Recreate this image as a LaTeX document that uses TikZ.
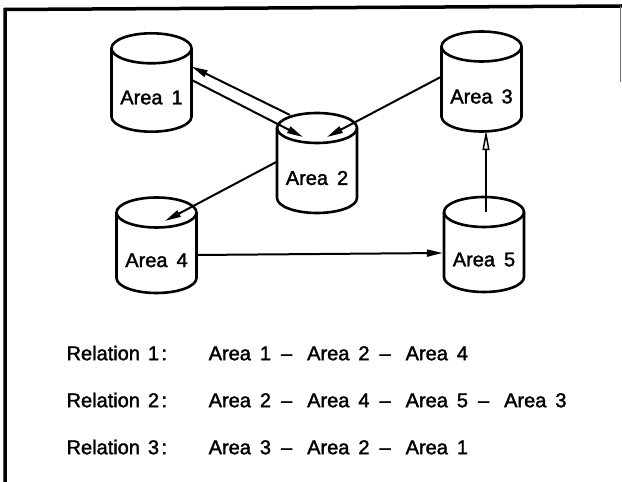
\documentclass[tikz,border=0pt]{standalone}
\usepackage{fontspec}
\setmainfont{Liberation Sans}[FakeBold=1.8]
\usetikzlibrary{arrows.meta,calc}

% database cylinder: name, centre x, top-ellipse y, bottom-ellipse y, label
\newcommand\areacyl[5]{%
  \draw[cyl] (#2,#3) ellipse[x radius=40,y radius=15];
  \draw[cyl] (#2-40,#3) -- (#2-40,#4)
     arc[start angle=180,end angle=360,x radius=40,y radius=15] -- (#2+40,#3);
  \node[box, minimum height={#3-#4+30}] (#1) at (#2,{(#3+#4)/2}) {};
  \node[lbl] (#1-lbl) at (#2,{(#3+#4)/2-15}) {#5};
}
\newcommand\ar[1]{Area\hspace{9pt}#1}
\newcommand\dsh{\hspace{10pt}–\hspace{15pt}}

\begin{document}
\begin{tikzpicture}[x=1pt,y=1pt,
  cyl/.style={line width=2.6pt, line join=round},
  conn/.style={line width=2pt, -{Triangle[length=16pt,width=7pt]}},
  openhead/.style={line width=2pt, -{Triangle[open,length=20pt,width=7pt,line width=1.5pt]}},
  box/.style={minimum width=80pt, inner sep=0pt},
  lbl/.style={font=\fontsize{20}{24}\selectfont, inner sep=0pt},
  rel/.style={font=\fontsize{20}{24}\selectfont, anchor=base west, inner sep=0pt}]
\useasboundingbox (0,0) rectangle (622,482);

% frame
\draw[line width=3.5pt] (5,0) -- (5,472.5) -- (622,476);
\draw[line width=1.5pt, black!55] (620.5,476) -- (620.5,400);

% storage areas
\areacyl{a1}{151.5}{433.7}{365.3}{\ar{1}}
\areacyl{a2}{317}{354}{284}{\ar{2}}
\areacyl{a3}{481.5}{435.5}{365.5}{\ar{3}}
\areacyl{a4}{156.5}{269.5}{204}{\ar{4}}
\areacyl{a5}{484}{270}{205}{\ar{5}}

% links between areas
\draw[conn] ($(a2.center)+(-27,48)$) -- ($(a1.east)+(0,15.8)$);
\draw[conn] ($(a1.east)+(0,2.5)$) -- ($(a2.center)+(-14,26)$);
\draw[conn] ($(a3.west)+(0,4.8)$) -- ($(a2.center)+(10,26)$);
\draw[conn] ($(a2.west)+(0,1.3)$) -- ($(a4.center)+(8.5,24.25)$);
\draw[conn] ($(a4.east)+(0,-9.75)$) -- ($(a5.west)+(-1,-8.5)$);
\draw[openhead] ($(a5.center)+(2,32.5)$) -- ($(a3.south)+(4.5,1.5)$);

% relations
\node[rel] (r1) at (66.4,121.8) {Relation\hspace{8pt}1\hspace{2.5pt}:};
\node[rel] (r1v) at (208.5,121.8) {\ar{1}\dsh\ar{2}\dsh\ar{4}};
\node[rel] (r2) at (66.4,74.8) {Relation\hspace{8pt}2\hspace{2.5pt}:};
\node[rel] (r2v) at (208.5,74.8) {\ar{2}\dsh\ar{4}\dsh\ar{5}\dsh\ar{3}};
\node[rel] (r3) at (66.4,27.8) {Relation\hspace{8pt}3\hspace{2.5pt}:};
\node[rel] (r3v) at (208.5,27.8) {\ar{3}\dsh\ar{2}\dsh\ar{1}};
\end{tikzpicture}
\end{document}
